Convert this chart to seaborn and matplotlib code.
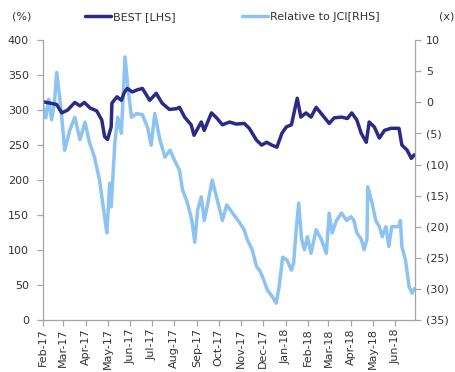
import matplotlib
matplotlib.use("Agg")
import matplotlib.pyplot as plt
import matplotlib.dates as mdates
import matplotlib.ticker as mticker
import pandas as pd
import seaborn as sns

# ---- data ----
best_dates = ["2017-02-01", "2017-02-11", "2017-02-20", "2017-02-27", "2017-03-07", "2017-03-17",
              "2017-03-24", "2017-03-30", "2017-04-07", "2017-04-16", "2017-04-23", "2017-04-27",
              "2017-05-01", "2017-05-06", "2017-05-07", "2017-05-14", "2017-05-20", "2017-05-24",
              "2017-05-28", "2017-06-04", "2017-06-11", "2017-06-18", "2017-06-28", "2017-07-07",
              "2017-07-15", "2017-07-25", "2017-08-04", "2017-08-08", "2017-08-15", "2017-08-24",
              "2017-08-28", "2017-09-07", "2017-09-11", "2017-09-21", "2017-09-28", "2017-10-06",
              "2017-10-16", "2017-10-25", "2017-11-05", "2017-11-12", "2017-11-22", "2017-11-29",
              "2017-12-06", "2017-12-13", "2017-12-20", "2017-12-27", "2018-01-02", "2018-01-09",
              "2018-01-17", "2018-01-22", "2018-01-29", "2018-02-05", "2018-02-12", "2018-02-23",
              "2018-03-02", "2018-03-09", "2018-03-19", "2018-03-27", "2018-04-02", "2018-04-09",
              "2018-04-15", "2018-04-22", "2018-04-26", "2018-05-03", "2018-05-10", "2018-05-17",
              "2018-05-26", "2018-06-06", "2018-06-10", "2018-06-17", "2018-06-23", "2018-06-27"]
best_values = [312, 310, 308, 296, 300, 311, 306, 311, 303, 299, 286, 262,
               258, 276, 310, 319, 314, 325, 331, 326, 329, 331, 314, 324,
               310, 301, 302, 304, 290, 279, 264, 283, 271, 296, 289, 279,
               283, 280, 281, 274, 257, 250, 254, 250, 247, 267, 276, 279,
               317, 290, 296, 290, 304, 290, 281, 289, 290, 288, 296, 286,
               267, 254, 283, 276, 260, 271, 274, 274, 250, 243, 231, 236]

rel_dates = ["2017-02-01", "2017-02-05", "2017-02-09", "2017-02-13", "2017-02-17", "2017-02-20",
             "2017-02-24", "2017-02-27", "2017-03-03", "2017-03-10", "2017-03-17", "2017-03-24",
             "2017-03-31", "2017-04-06", "2017-04-13", "2017-04-20", "2017-04-27", "2017-04-30",
             "2017-05-04", "2017-05-06", "2017-05-11", "2017-05-15", "2017-05-20", "2017-05-25",
             "2017-05-29", "2017-06-03", "2017-06-10", "2017-06-18", "2017-06-25", "2017-06-30",
             "2017-07-05", "2017-07-12", "2017-07-19", "2017-07-26", "2017-08-01", "2017-08-08",
             "2017-08-12", "2017-08-19", "2017-08-25", "2017-08-29", "2017-09-02", "2017-09-07",
             "2017-09-11", "2017-09-15", "2017-09-22", "2017-09-29", "2017-10-06", "2017-10-12",
             "2017-10-20", "2017-10-30", "2017-11-05", "2017-11-09", "2017-11-16", "2017-11-22",
             "2017-11-26", "2017-11-30", "2017-12-07", "2017-12-14", "2017-12-19", "2017-12-23",
             "2017-12-28", "2018-01-03", "2018-01-09", "2018-01-12", "2018-01-16", "2018-01-19",
             "2018-01-23", "2018-01-27", "2018-01-31", "2018-02-05", "2018-02-12", "2018-02-19",
             "2018-02-26", "2018-03-02", "2018-03-06", "2018-03-12", "2018-03-19", "2018-03-26",
             "2018-04-01", "2018-04-05", "2018-04-09", "2018-04-15", "2018-04-19", "2018-04-23",
             "2018-04-24", "2018-04-30", "2018-05-05", "2018-05-10", "2018-05-14", "2018-05-19",
             "2018-05-23", "2018-05-27", "2018-06-06", "2018-06-08", "2018-06-10", "2018-06-15",
             "2018-06-20", "2018-06-24", "2018-06-27"]
rel_values = [-0.5, -2.5, 0.5, -2.8, 0.0, 4.8, 1.0, -2.4, -7.7, -4.5, -2.4, -6.0,
              -3.2, -6.4, -8.8, -12.5, -18.4, -21.0, -13.0, -16.8, -6.6, -2.4, -5.0, 7.3,
              2.4, -2.4, -1.8, -2.0, -4.0, -6.9, -1.8, -6.0, -8.8, -7.7, -9.3, -10.9,
              -14.0, -16.2, -19.0, -22.5, -17.3, -15.2, -19.0, -16.8, -12.5, -15.7, -19.0, -16.5,
              -17.8, -19.4, -20.5, -22.0, -23.7, -26.4, -27.0, -28.0, -30.2, -31.3, -32.3, -29.7,
              -24.9, -25.4, -27.0, -25.9, -20.0, -16.2, -22.0, -23.7, -21.6, -24.3, -20.5, -22.0,
              -24.3, -17.8, -21.0, -19.0, -17.8, -19.0, -18.4, -19.0, -21.0, -22.0, -23.7, -22.0,
              -13.6, -16.2, -19.0, -20.0, -21.6, -20.0, -23.2, -20.0, -20.0, -19.0, -23.2, -25.4,
              -29.7, -30.7, -30.0]

series_labels = ["BEST [LHS]", "Relative to JCI[RHS]"]
left_ticks = [0, 50, 100, 150, 200, 250, 300, 350, 400]
right_ticks = [10, 5, 0, -5, -10, -15, -20, -25, -30, -35]

dark = "#2A2B86"
light = "#8CC3F2"
grey = "#A6A6A6"
txt = "#333333"

sns.set_style("white")
plt.rcParams["font.family"] = ["DejaVu Sans"]

best_df = pd.DataFrame({"date": pd.to_datetime(best_dates), "value": best_values})
rel_df = pd.DataFrame({"date": pd.to_datetime(rel_dates), "value": rel_values})

fig = plt.figure(figsize=(4.56, 3.72), dpi=100)
ax = fig.add_axes([0.094, 0.140, 0.816, 0.752])
ax2 = ax.twinx()

sns.lineplot(data=best_df, x="date", y="value", ax=ax, color=dark, linewidth=2.5, label=series_labels[0], legend=False)
sns.lineplot(data=rel_df, x="date", y="value", ax=ax2, color=light, linewidth=2.5, label=series_labels[1], legend=False)
ax.set_zorder(ax2.get_zorder() + 1)
ax.patch.set_visible(False)

ax.set_xlim(pd.Timestamp("2017-02-01"), pd.Timestamp("2018-06-28"))
ax.set_ylim(0, 400)
ax2.set_ylim(-35, 10)
ax.set_yticks(left_ticks)
ax2.set_yticks(right_ticks)
ax2.yaxis.set_major_formatter(mticker.FuncFormatter(lambda v, p: f"({abs(int(v))})" if v < 0 else f"{int(v)}"))
ax.xaxis.set_major_locator(mdates.MonthLocator())
ax.xaxis.set_major_formatter(mdates.DateFormatter("%b-%y"))

for a in (ax, ax2):
    a.set_xlabel("")
    a.set_ylabel("")
    a.spines["top"].set_visible(False)
    for s in ("left", "right", "bottom"):
        a.spines[s].set_color(grey)
        a.spines[s].set_linewidth(0.9)
    a.tick_params(direction="out", length=4, width=0.9, color=grey, labelcolor=txt, labelsize=8)
    a.grid(False)
ax.spines["right"].set_visible(False)
ax2.spines["left"].set_visible(False)
ax2.spines["bottom"].set_visible(False)
ax.tick_params(axis="y", left=True, pad=6)
ax.tick_params(axis="x", bottom=True, rotation=90, pad=2)
ax2.tick_params(axis="y", right=True, pad=4)

fig.text(0.027, 0.955, "(%)", fontsize=8, color=txt, va="center", ha="left")
fig.text(0.997, 0.955, "(x)", fontsize=8, color=txt, va="center", ha="right")

h1, l1 = ax.get_legend_handles_labels()
h2, l2 = ax2.get_legend_handles_labels()
fig.legend(h1 + h2, l1 + l2, loc="center", bbox_to_anchor=(0.51, 0.955), ncol=2, frameon=False,
           fontsize=8, handlelength=2.3, handletextpad=0.2, columnspacing=6.0, labelcolor=txt)

fig.savefig("out.png", dpi=100)
